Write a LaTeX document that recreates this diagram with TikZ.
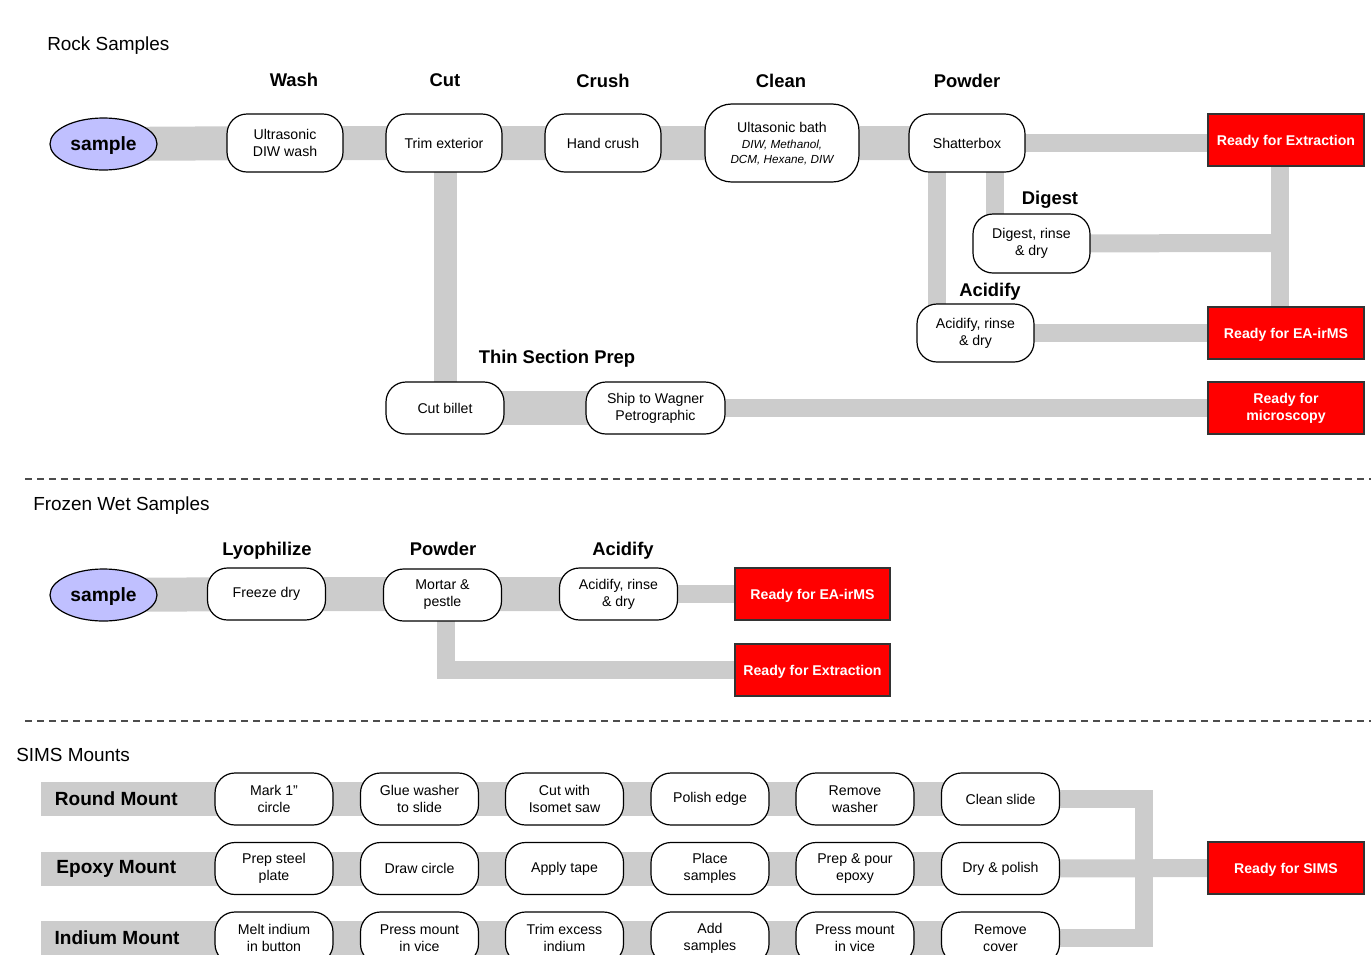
\documentclass[tikz,border=0pt]{standalone}
\usepackage{fontspec}
\setmainfont{Liberation Sans}
\usetikzlibrary{backgrounds,shapes.geometric,calc}
\definecolor{bandgray}{HTML}{CCCCCC}
\definecolor{lav}{HTML}{C0C0FF}
\definecolor{redbox}{HTML}{FF0000}
\newcommand{\ci}{\fontsize{8.8}{11}\selectfont\itshape}
\begin{document}
\begin{tikzpicture}[x=0.75pt,y=-0.75pt,
  sz/.style 2 args={minimum width=#1*0.75pt, minimum height=#2*0.75pt},
  proc/.style={draw=black, line width=0.9pt, fill=white, rounded corners=15pt, align=center, inner sep=0pt, sz={118}{52}, font=\fontsize{10.6}{12.75}\selectfont},
  samp/.style={ellipse, draw=black, line width=0.9pt, fill=lav, inner sep=0pt, text depth=0pt, sz={107}{52}, font=\fontsize{14.4}{17}\selectfont\bfseries},
  ready/.style={draw=black!80, line width=0.9pt, fill=redbox, text=white, align=center, inner sep=0pt, sz={156}{52}, font=\fontsize{10.6}{12.75}\selectfont\bfseries},
  ready1/.style={ready, text depth=0pt},
  head/.style={font=\fontsize{13.8}{16}\selectfont\bfseries, inner sep=0pt, text depth=0pt},
  title/.style={font=\fontsize{14.2}{17}\selectfont, inner sep=0pt, anchor=west, text depth=0pt},
  rowlab/.style={fill=bandgray, anchor=west, inner xsep=10pt, inner ysep=0pt, sz={150}{34}, font=\fontsize{14.3}{17}\selectfont\bfseries},
  bandthick/.style={draw=bandgray, line width=25.5pt, line cap=butt, line join=miter},
  bandthin/.style={draw=bandgray, line width=13.5pt, line cap=butt, line join=miter},
  sep/.style={draw=black!70, line width=1pt, dash pattern=on 5.25pt off 3.75pt}
]
\useasboundingbox (0,0) rectangle (1371,954);

% ---------- Rock samples ----------
\node[title] (t1) at (47,44) {Rock Samples};
\node[head] (hwash) at (294,80) {Wash};
\node[head] (hcut) at (445,80) {Cut};
\node[head] (hcrush) at (603,81) {Crush};
\node[head] (hclean) at (781,81) {Clean};
\node[head] (hpow) at (967,81) {Powder};
\node[head] (hdig) at (1050,198) {Digest};
\node[head] (hacid) at (990,290) {Acidify};
\node[head] (hthin) at (557,357) {Thin Section Prep};

\node[samp] (s1) at (103.5,144) {sample};
\node[proc, sz={116}{58}] (wash) at (285,143) {Ultrasonic\\DIW wash};
\node[proc, sz={116}{58}] (cut) at (444,143) {Trim exterior};
\node[proc, sz={116}{58}] (crush) at (603,143) {Hand crush};
\node[proc, sz={154}{78}, rounded corners=20pt, text depth=0pt] (clean) at (782,143) {Ultasonic bath\\[-0.5pt]{\ci DIW, Methanol,}\\[-1.2pt]{\ci DCM, Hexane, DIW}};
\node[proc, sz={116}{58}] (shatter) at (967,143) {Shatterbox};
\node[proc, sz={117}{59}] (digest) at (1031.5,243.5) {Digest, rinse\\\& dry};
\node[proc, sz={117}{58}] (acid) at (975.5,333) {Acidify, rinse\\\& dry};
\node[proc] (billet) at (445,408) {Cut billet};
\node[proc, sz={139}{52}] (ship) at (655.5,408) {Ship to Wagner\\Petrographic};

\node[ready1] (rx1) at (1286,140) {Ready for Extraction};
\node[ready1] (rea) at (1286,333) {Ready for EA-irMS};
\node[ready] (rmic) at (1286,408) {Ready for\\microscopy};
\coordinate (vj) at (1280,243);

\begin{scope}[on background layer]
\draw[bandthick] (s1.center) -- (wash.center) -- (cut.center) -- (crush.center) -- (clean.center) -- (shatter.center);
\draw[bandthin] (shatter.center) -- (shatter.center -| rx1.center);
\draw[bandthin, line width=17.25pt] ($(billet.center |- cut.center)$) -- (billet.center);
\draw[bandthick] (billet.center) -- (ship.center);
\draw[bandthin] (ship.center) -- (rmic.center);
\draw[bandthin] ($(shatter.center)+(-30,0)$) -- ($(acid.center)+(-38.5,0)$);
\draw[bandthin] ($(shatter.center)+(28,0)$) -- ($(digest.center)+(-36.5,0)$);
\draw[bandthin] (digest.center) -- (vj);
\draw[bandthin] (vj |- rx1.center) -- (vj |- rea.center);
\draw[bandthin] (acid.center) -- (rea.center);
\end{scope}

\draw[sep] (25,479) -- (1371,479);

% ---------- Frozen wet samples ----------
\node[title] (t2) at (33,504) {Frozen Wet Samples};
\node[head] (hlyo) at (267,549) {Lyophilize};
\node[head] (hpow2) at (443,549) {Powder};
\node[head] (hacid2) at (623,549) {Acidify};

\node[samp] (s2) at (103.5,595) {sample};
\node[proc] (freeze) at (266.5,594) {Freeze dry};
\node[proc] (mortar) at (442.5,595) {Mortar \&\\pestle};
\node[proc] (acid2) at (618.5,594) {Acidify, rinse\\\& dry};
\node[ready1, sz={155}{52}] (rea2) at (812.5,594) {Ready for EA-irMS};
\node[ready1, sz={155}{52}] (rext2) at (812.5,670) {Ready for Extraction};

\begin{scope}[on background layer]
\draw[bandthick] (s2.center) -- (freeze.center) -- (mortar.center |- freeze.center) -- (acid2.center);
\draw[bandthin] (acid2.center) -- (rea2.center);
\draw[bandthin] ($(mortar.center)+(3.5,0)$) |- (rext2.center);
\end{scope}

\draw[sep] (25,721) -- (1371,721);

% ---------- SIMS mounts ----------
\node[title] (t3) at (16,755) {SIMS Mounts};
\node[rowlab] (rl) at (41,799) {Round Mount};
\node[rowlab] (el) at (41,868.5) {Epoxy Mount};
\node[rowlab] (il) at (41,938) {Indium Mount};

\node[proc] (r1) at (274,799) {Mark 1”\\circle};
\node[proc] (r2) at (419.5,799) {Glue washer\\to slide};
\node[proc] (r3) at (564.5,799) {Cut with\\Isomet saw};
\node[proc] (r4) at (710,799) {Polish edge};
\node[proc] (r5) at (855,799) {Remove\\washer};
\node[proc] (r6) at (1000.5,799) {Clean slide};

\node[proc] (e1) at (274,868.5) {Prep steel\\plate};
\node[proc] (e2) at (419.5,868.5) {Draw circle};
\node[proc] (e3) at (564.5,868.5) {Apply tape};
\node[proc] (e4) at (710,868.5) {Place\\samples};
\node[proc] (e5) at (855,868.5) {Prep \& pour\\epoxy};
\node[proc] (e6) at (1000.5,868.5) {Dry \& polish};

\node[proc] (i1) at (274,938) {Melt indium\\in button};
\node[proc] (i2) at (419.5,938) {Press mount\\in vice};
\node[proc] (i3) at (564.5,938) {Trim excess\\indium};
\node[proc] (i4) at (710,938) {Add\\samples};
\node[proc] (i5) at (855,938) {Press mount\\in vice};
\node[proc] (i6) at (1000.5,938) {Remove\\cover};

\node[ready1] (rsims) at (1286,868) {Ready for SIMS};
\coordinate (jb) at (1144,868.5);

\begin{scope}[on background layer]
\draw[bandthick] (rl.center) -- (r1.center) -- (r2.center) -- (r3.center) -- (r4.center) -- (r5.center) -- (r6.center);
\draw[bandthick] (el.center) -- (e1.center) -- (e2.center) -- (e3.center) -- (e4.center) -- (e5.center) -- (e6.center);
\draw[bandthick] (il.center) -- (i1.center) -- (i2.center) -- (i3.center) -- (i4.center) -- (i5.center) -- (i6.center);
\draw[bandthin] (r6.center) -| (jb);
\draw[bandthin] (i6.center) -| (jb);
\draw[bandthin] (e6.center) -- (rsims.center);
\end{scope}
\end{tikzpicture}
\end{document}
